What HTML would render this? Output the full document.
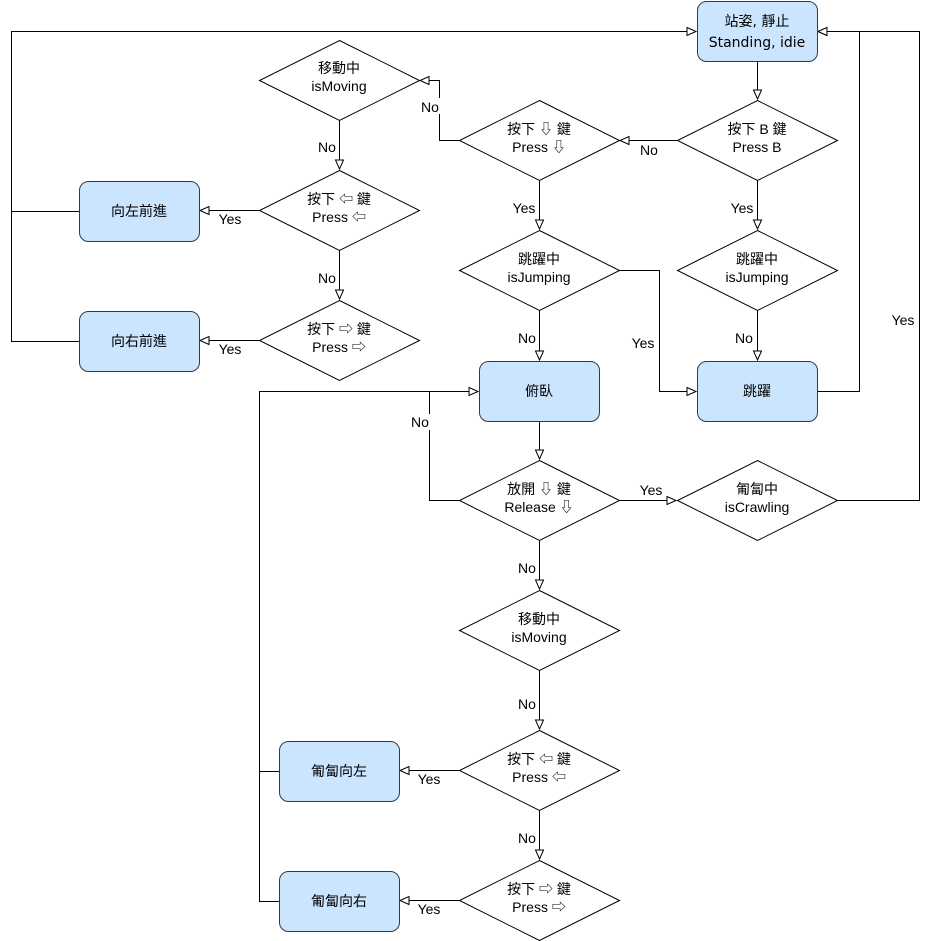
<!DOCTYPE html>
<html><head><meta charset="utf-8"><style>
html,body{margin:0;padding:0;background:#fff}
svg{display:block}
text{font-family:"Liberation Sans","Noto Sans CJK TC",sans-serif;font-size:14px;fill:#000;text-anchor:middle}
</style></head><body>
<svg width="930" height="941" viewBox="0 0 930 941" xmlns="http://www.w3.org/2000/svg">
<defs>
<marker id="a" markerWidth="12" markerHeight="10" refX="10" refY="5" orient="auto" markerUnits="userSpaceOnUse">
<path d="M1,1 L10,5 L1,9 Z" fill="#fff" stroke="#000" stroke-width="1"/>
</marker>
</defs>
<g fill="none" stroke="#000" stroke-width="1">
<path d="M757.5,61 V99" marker-end="url(#a)"/>
<path d="M677,140.5 H620" marker-end="url(#a)"/>
<path d="M757.5,180 V229" marker-end="url(#a)"/>
<path d="M757.5,310 V360" marker-end="url(#a)"/>
<path d="M817,391.5 H859.5 V31.5 H818" marker-end="url(#a)"/>
<path d="M459,140.5 H439.5 V80.5 H420" marker-end="url(#a)"/>
<path d="M539.5,180 V229" marker-end="url(#a)"/>
<path d="M619,270.5 H659.5 V391.5 H696" marker-end="url(#a)"/>
<path d="M539.5,310 V360" marker-end="url(#a)"/>
<path d="M339.5,120 V169" marker-end="url(#a)"/>
<path d="M259,210.5 H200" marker-end="url(#a)"/>
<path d="M339.5,250 V299" marker-end="url(#a)"/>
<path d="M259,340.5 H200" marker-end="url(#a)"/>
<path d="M79,211.5 H11.5"/>
<path d="M79,341.5 H11.5 V31.5 H696" marker-end="url(#a)"/>
<path d="M539.5,421 V459" marker-end="url(#a)"/>
<path d="M459,500.5 H429.5 V391.5"/>
<path d="M619,500.5 H676" marker-end="url(#a)"/>
<path d="M837,500.5 H919.5 V31.5 H818" marker-end="url(#a)"/>
<path d="M539.5,540 V589" marker-end="url(#a)"/>
<path d="M539.5,670 V729" marker-end="url(#a)"/>
<path d="M459,770.5 H400" marker-end="url(#a)"/>
<path d="M539.5,810 V859" marker-end="url(#a)"/>
<path d="M459,900.5 H400" marker-end="url(#a)"/>
<path d="M279,771.5 H259.5"/>
<path d="M279,901.5 H259.5 V391.5 H478" marker-end="url(#a)"/>
</g>
<g fill="#cce5ff" stroke="#36393d" stroke-width="1">
<rect x="697.5" y="1.5" width="120" height="60" rx="9"/>
<rect x="79.5" y="181.5" width="120" height="60" rx="9"/>
<rect x="79.5" y="311.5" width="120" height="60" rx="9"/>
<rect x="479.5" y="361.5" width="120" height="60" rx="9"/>
<rect x="697.5" y="361.5" width="120" height="60" rx="9"/>
<rect x="279.5" y="741.5" width="120" height="60" rx="9"/>
<rect x="279.5" y="871.5" width="120" height="60" rx="9"/>
</g>
<g fill="#fff" stroke="#000" stroke-width="1">
<path d="M757.5,100.5 L837.5,140.5 L757.5,180.5 L677.5,140.5 Z"/>
<path d="M539.5,100.5 L619.5,140.5 L539.5,180.5 L459.5,140.5 Z"/>
<path d="M339.5,40.5 L419.5,80.5 L339.5,120.5 L259.5,80.5 Z"/>
<path d="M339.5,170.5 L419.5,210.5 L339.5,250.5 L259.5,210.5 Z"/>
<path d="M339.5,300.5 L419.5,340.5 L339.5,380.5 L259.5,340.5 Z"/>
<path d="M539.5,230.5 L619.5,270.5 L539.5,310.5 L459.5,270.5 Z"/>
<path d="M757.5,230.5 L837.5,270.5 L757.5,310.5 L677.5,270.5 Z"/>
<path d="M539.5,460.5 L619.5,500.5 L539.5,540.5 L459.5,500.5 Z"/>
<path d="M757.5,460.5 L837.5,500.5 L757.5,540.5 L677.5,500.5 Z"/>
<path d="M539.5,590.5 L619.5,630.5 L539.5,670.5 L459.5,630.5 Z"/>
<path d="M539.5,730.5 L619.5,770.5 L539.5,810.5 L459.5,770.5 Z"/>
<path d="M539.5,860.5 L619.5,900.5 L539.5,940.5 L459.5,900.5 Z"/>
</g>
<g>
<text x="757" y="26" style="font-family:'DejaVu Sans','Noto Sans CJK TC',sans-serif">站姿, 靜止</text>
<text x="757" y="47" style="font-family:'DejaVu Sans','Noto Sans CJK TC',sans-serif">Standing, idie</text>
<text x="757" y="134">按下 B 鍵</text><text x="757" y="152">Press B</text>
<text x="539" y="134">按下 ⇩ 鍵</text><text x="539" y="152">Press ⇩</text>
<text x="339" y="73">移動中</text><text x="339" y="91">isMoving</text>
<text x="339" y="204">按下 ⇦ 鍵</text><text x="339" y="222">Press ⇦</text>
<text x="339" y="334">按下 ⇨ 鍵</text><text x="339" y="352">Press ⇨</text>
<text x="139" y="216">向左前進</text>
<text x="139" y="346">向右前進</text>
<text x="539" y="264">跳躍中</text><text x="539" y="282">isJumping</text>
<text x="757" y="264">跳躍中</text><text x="757" y="282">isJumping</text>
<text x="539" y="396">俯臥</text>
<text x="757" y="396">跳躍</text>
<text x="539" y="494">放開 ⇩ 鍵</text><text x="539" y="512">Release ⇩</text>
<text x="757" y="494">匍匐中</text><text x="757" y="512">isCrawling</text>
<text x="539" y="624">移動中</text><text x="539" y="642">isMoving</text>
<text x="539" y="764">按下 ⇦ 鍵</text><text x="539" y="782">Press ⇦</text>
<text x="539" y="894">按下 ⇨ 鍵</text><text x="539" y="912">Press ⇨</text>
<text x="339" y="776">匍匐向左</text>
<text x="339" y="906">匍匐向右</text>
</g>
<g>
<rect x="637" y="142" width="24" height="16" fill="#fff"/><text x="649" y="155">No</text>
<text x="742" y="213">Yes</text>
<rect x="732" y="330" width="24" height="16" fill="#fff"/><text x="744" y="343">No</text>
<rect x="418" y="98" width="24" height="16" fill="#fff"/><text x="430" y="112">No</text>
<text x="524" y="213">Yes</text>
<text x="643" y="348">Yes</text>
<rect x="515" y="330" width="24" height="16" fill="#fff"/><text x="527" y="343">No</text>
<rect x="315" y="139" width="24" height="16" fill="#fff"/><text x="327" y="152">No</text>
<text x="230" y="224">Yes</text>
<rect x="315" y="270" width="24" height="16" fill="#fff"/><text x="327" y="283">No</text>
<text x="230" y="354">Yes</text>
<rect x="408" y="414" width="24" height="16" fill="#fff"/><text x="420" y="427">No</text>
<text x="651" y="495">Yes</text>
<rect x="888" y="311" width="30" height="16" fill="#fff"/><text x="903" y="325">Yes</text>
<rect x="515" y="560" width="24" height="16" fill="#fff"/><text x="527" y="573">No</text>
<rect x="515" y="696" width="24" height="16" fill="#fff"/><text x="527" y="709">No</text>
<text x="429" y="784">Yes</text>
<rect x="515" y="830" width="24" height="16" fill="#fff"/><text x="527" y="843">No</text>
<text x="429" y="914">Yes</text>
</g>
</svg>
</body></html>
